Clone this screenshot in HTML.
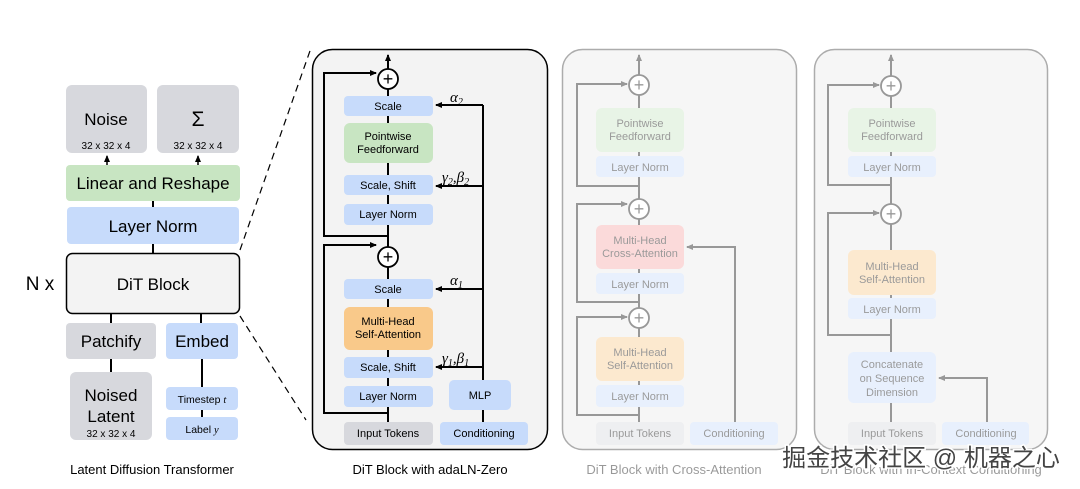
<!DOCTYPE html>
<html><head><meta charset="utf-8"><style>
html,body{margin:0;padding:0;background:#fff;}
svg{display:block;font-family:"Liberation Sans",sans-serif;}
</style></head><body>
<svg width="1080" height="489" viewBox="0 0 1080 489" xmlns="http://www.w3.org/2000/svg">
<defs>
<marker id="ah" markerWidth="8" markerHeight="8" refX="6" refY="4" orient="auto" markerUnits="userSpaceOnUse"><path d="M0,1 L7,4 L0,7 z" fill="#000"/></marker>
</defs>
<rect width="1080" height="489" fill="#fff"/>

<!-- LEFT PANEL -->
<g>
<rect x="66" y="85" width="81" height="68" rx="6" fill="#d7d8dd"/>
<rect x="157" y="85" width="82" height="68" rx="6" fill="#d7d8dd"/>
<text x="106" y="125" font-size="17" text-anchor="middle">Noise</text>
<text x="198" y="126" font-size="21" text-anchor="middle">Σ</text>
<text x="106" y="149" font-size="10" text-anchor="middle">32 x 32 x 4</text>
<text x="198" y="149" font-size="10" text-anchor="middle">32 x 32 x 4</text>
<line x1="107" y1="165" x2="107" y2="156" stroke="#000" stroke-width="1.5" marker-end="url(#ah)"/>
<line x1="198" y1="165" x2="198" y2="156" stroke="#000" stroke-width="1.5" marker-end="url(#ah)"/>
<rect x="66" y="165" width="174" height="36" rx="4" fill="#c8e5c2"/>
<text x="153" y="189" font-size="17" text-anchor="middle">Linear and Reshape</text>
<line x1="153" y1="201" x2="153" y2="207" stroke="#000" stroke-width="2"/>
<rect x="67" y="207" width="172" height="37" rx="4" fill="#c7dbfb"/>
<text x="153" y="232" font-size="17" text-anchor="middle">Layer Norm</text>
<line x1="153" y1="244" x2="153" y2="253" stroke="#000" stroke-width="2"/>
<rect x="66.5" y="253.5" width="173" height="60" rx="6" fill="#f3f3f3" stroke="#000" stroke-width="1.5"/>
<text x="153" y="290" font-size="17" text-anchor="middle">DiT Block</text>
<text x="40" y="290" font-size="19" text-anchor="middle">N x</text>
<line x1="111" y1="314" x2="111" y2="323" stroke="#000" stroke-width="2"/>
<line x1="201" y1="314" x2="201" y2="323" stroke="#000" stroke-width="2"/>
<rect x="66" y="323" width="90" height="36" rx="4" fill="#d7d8dd"/>
<text x="111" y="347" font-size="17" text-anchor="middle">Patchify</text>
<rect x="166" y="323" width="72" height="36" rx="4" fill="#c7dbfb"/>
<text x="202" y="347" font-size="17" text-anchor="middle">Embed</text>
<line x1="111" y1="359" x2="111" y2="372" stroke="#000" stroke-width="2"/>
<line x1="202" y1="359" x2="202" y2="387" stroke="#000" stroke-width="2"/>
<line x1="202" y1="410" x2="202" y2="417" stroke="#000" stroke-width="2"/>
<rect x="70" y="372" width="82" height="68" rx="6" fill="#d7d8dd"/>
<text x="111" y="401" font-size="17" text-anchor="middle">Noised</text>
<text x="111" y="422" font-size="17" text-anchor="middle">Latent</text>
<text x="111" y="437" font-size="10" text-anchor="middle">32 x 32 x 4</text>
<rect x="166" y="387" width="72" height="23" rx="4" fill="#c7dbfb"/>
<text x="202" y="403" font-size="10.5" text-anchor="middle">Timestep <tspan font-family="Liberation Serif" font-style="italic">t</tspan></text>
<rect x="166" y="417" width="72" height="23" rx="4" fill="#c7dbfb"/>
<text x="202" y="433" font-size="10.5" text-anchor="middle">Label <tspan font-family="Liberation Serif" font-style="italic">y</tspan></text>
<text x="152" y="474" font-size="13" text-anchor="middle">Latent Diffusion Transformer</text>
<line x1="240" y1="250" x2="311" y2="48" stroke="#000" stroke-width="1.2" stroke-dasharray="7,5"/>
<line x1="240" y1="316" x2="306" y2="420" stroke="#000" stroke-width="1.2" stroke-dasharray="7,5"/>
</g>

<!-- ADALN PANEL -->
<g font-size="11" text-anchor="middle">
<rect x="312.5" y="49.5" width="235" height="400" rx="20" fill="#f3f3f3" stroke="#000" stroke-width="1.5"/>
<g stroke="#000" stroke-width="2" fill="none">
<line x1="388" y1="69" x2="388" y2="55" marker-end="url(#ah)"/>
<line x1="388" y1="89" x2="388" y2="422"/>
<polyline points="388,236 324,236 324,73 376,73" marker-end="url(#ah)"/>
<polyline points="388,413 324,413 324,245 376,245" marker-end="url(#ah)"/>
<line x1="483" y1="380" x2="483" y2="105"/>
<line x1="483" y1="422" x2="483" y2="410"/>
<line x1="483" y1="105" x2="436" y2="105" marker-end="url(#ah)"/>
<line x1="483" y1="186" x2="436" y2="186" marker-end="url(#ah)"/>
<line x1="483" y1="289" x2="436" y2="289" marker-end="url(#ah)"/>
<line x1="483" y1="367" x2="436" y2="367" marker-end="url(#ah)"/>
</g>
<circle cx="388" cy="79" r="10" fill="#fff" stroke="#000" stroke-width="1.8"/>
<text x="388" y="85" font-size="18">+</text>
<circle cx="388" cy="257" r="10" fill="#fff" stroke="#000" stroke-width="1.8"/>
<text x="388" y="263" font-size="18">+</text>
<rect x="344" y="96" width="89" height="20" rx="4" fill="#c7dbfb"/><text x="388" y="110">Scale</text>
<rect x="344" y="123" width="89" height="40" rx="6" fill="#c8e5c2"/><text x="388" y="140">Pointwise</text><text x="388" y="153">Feedforward</text>
<rect x="344" y="175" width="89" height="20" rx="4" fill="#c7dbfb"/><text x="388" y="189">Scale, Shift</text>
<rect x="344" y="204" width="89" height="21" rx="4" fill="#c7dbfb"/><text x="388" y="218">Layer Norm</text>
<rect x="344" y="279" width="89" height="20" rx="4" fill="#c7dbfb"/><text x="388" y="293">Scale</text>
<rect x="344" y="307" width="89" height="43" rx="6" fill="#f9c98a"/><text x="388" y="325">Multi-Head</text><text x="388" y="338">Self-Attention</text>
<rect x="344" y="357" width="89" height="21" rx="4" fill="#c7dbfb"/><text x="388" y="371">Scale, Shift</text>
<rect x="344" y="386" width="89" height="21" rx="4" fill="#c7dbfb"/><text x="388" y="400">Layer Norm</text>
<rect x="344" y="422" width="89" height="23" rx="4" fill="#d7d8dd"/><text x="388" y="437">Input Tokens</text>
<rect x="440" y="422" width="88" height="23" rx="4" fill="#c7dbfb"/><text x="484" y="437">Conditioning</text>
<rect x="449" y="380" width="62" height="30" rx="5" fill="#c7dbfb"/><text x="480" y="399">MLP</text>
<g font-family="Liberation Serif" font-style="italic" font-size="15" text-anchor="start">
<text x="450" y="102">α<tspan font-size="10" dy="3">2</tspan></text>
<text x="442" y="182">γ<tspan font-size="10" dy="3">2</tspan><tspan dy="-3">,β</tspan><tspan font-size="10" dy="3">2</tspan></text>
<text x="450" y="285">α<tspan font-size="10" dy="3">1</tspan></text>
<text x="442" y="363">γ<tspan font-size="10" dy="3">1</tspan><tspan dy="-3">,β</tspan><tspan font-size="10" dy="3">1</tspan></text>
</g>
<text x="430" y="474" font-size="13">DiT Block with adaLN-Zero</text>
</g>

<!-- CROSS-ATTN PANEL (faded) -->
<g font-size="11" text-anchor="middle" opacity="0.4">
<rect x="562.5" y="49.5" width="234" height="400" rx="20" fill="#eaeaea" stroke="#333" stroke-width="1.5"/>
<g stroke="#000" stroke-width="2" fill="none">
<line x1="639" y1="75" x2="639" y2="55" marker-end="url(#ah)"/>
<line x1="639" y1="95" x2="639" y2="422"/>
<polyline points="639,186 577,186 577,84 627,84" marker-end="url(#ah)"/>
<polyline points="639,302 577,302 577,204 627,204" marker-end="url(#ah)"/>
<polyline points="639,415 577,415 577,317 627,317" marker-end="url(#ah)"/>
<polyline points="735,422 735,247 687,247" marker-end="url(#ah)"/>
</g>
<circle cx="639" cy="85" r="10" fill="#fff" stroke="#000" stroke-width="1.8"/><text x="639" y="91" font-size="18">+</text>
<circle cx="639" cy="209" r="10" fill="#fff" stroke="#000" stroke-width="1.8"/><text x="639" y="215" font-size="18">+</text>
<circle cx="639" cy="318" r="10" fill="#fff" stroke="#000" stroke-width="1.8"/><text x="639" y="324" font-size="18">+</text>
<rect x="596" y="108" width="88" height="44" rx="6" fill="#c8e5c2"/><text x="640" y="127">Pointwise</text><text x="640" y="140">Feedforward</text>
<rect x="596" y="156" width="88" height="21" rx="4" fill="#c7dbfb"/><text x="640" y="171">Layer Norm</text>
<rect x="596" y="225" width="88" height="44" rx="6" fill="#f7a4a4"/><text x="640" y="244">Multi-Head</text><text x="640" y="257">Cross-Attention</text>
<rect x="596" y="273" width="88" height="21" rx="4" fill="#c7dbfb"/><text x="640" y="288">Layer Norm</text>
<rect x="596" y="337" width="88" height="44" rx="6" fill="#f9c98a"/><text x="640" y="356">Multi-Head</text><text x="640" y="369">Self-Attention</text>
<rect x="596" y="385" width="88" height="22" rx="4" fill="#c7dbfb"/><text x="640" y="400">Layer Norm</text>
<rect x="596" y="422" width="88" height="23" rx="4" fill="#d7d8dd"/><text x="640" y="437">Input Tokens</text>
<rect x="690" y="422" width="88" height="23" rx="4" fill="#c7dbfb"/><text x="734" y="437">Conditioning</text>
<text x="674" y="474" font-size="13">DiT Block with Cross-Attention</text>
</g>

<!-- IN-CONTEXT PANEL (faded) -->
<g font-size="11" text-anchor="middle" opacity="0.4">
<rect x="814.5" y="49.5" width="233" height="400" rx="20" fill="#eaeaea" stroke="#333" stroke-width="1.5"/>
<g stroke="#000" stroke-width="2" fill="none">
<line x1="891" y1="76" x2="891" y2="55" marker-end="url(#ah)"/>
<line x1="891" y1="96" x2="891" y2="422"/>
<polyline points="891,185 828,185 828,85 879,85" marker-end="url(#ah)"/>
<polyline points="891,335 828,335 828,213 879,213" marker-end="url(#ah)"/>
<polyline points="987,422 987,378 939,378" marker-end="url(#ah)"/>
</g>
<circle cx="891" cy="86" r="10" fill="#fff" stroke="#000" stroke-width="1.8"/><text x="891" y="92" font-size="18">+</text>
<circle cx="891" cy="214" r="10" fill="#fff" stroke="#000" stroke-width="1.8"/><text x="891" y="220" font-size="18">+</text>
<rect x="848" y="108" width="88" height="44" rx="6" fill="#c8e5c2"/><text x="892" y="127">Pointwise</text><text x="892" y="140">Feedforward</text>
<rect x="848" y="156" width="88" height="21" rx="4" fill="#c7dbfb"/><text x="892" y="171">Layer Norm</text>
<rect x="848" y="250" width="88" height="45" rx="6" fill="#f9c98a"/><text x="892" y="270">Multi-Head</text><text x="892" y="283">Self-Attention</text>
<rect x="848" y="298" width="88" height="21" rx="4" fill="#c7dbfb"/><text x="892" y="313">Layer Norm</text>
<rect x="848" y="352" width="88" height="51" rx="6" fill="#c7dbfb"/><text x="892" y="368">Concatenate</text><text x="892" y="382">on Sequence</text><text x="892" y="396">Dimension</text>
<rect x="848" y="422" width="88" height="23" rx="4" fill="#d7d8dd"/><text x="892" y="437">Input Tokens</text>
<rect x="942" y="422" width="87" height="23" rx="4" fill="#c7dbfb"/><text x="986" y="437">Conditioning</text>
<text x="931" y="474" font-size="13">DiT Block with In-Context Conditioning</text>
</g>

<!-- watermark -->
<text x="921" y="466" font-size="24" text-anchor="middle" font-family="'Liberation Sans','Noto Sans CJK SC',sans-serif" fill="#444" stroke="#fff" stroke-width="3" paint-order="stroke">掘金技术社区 @ 机器之心</text>
</svg>
</body></html>
